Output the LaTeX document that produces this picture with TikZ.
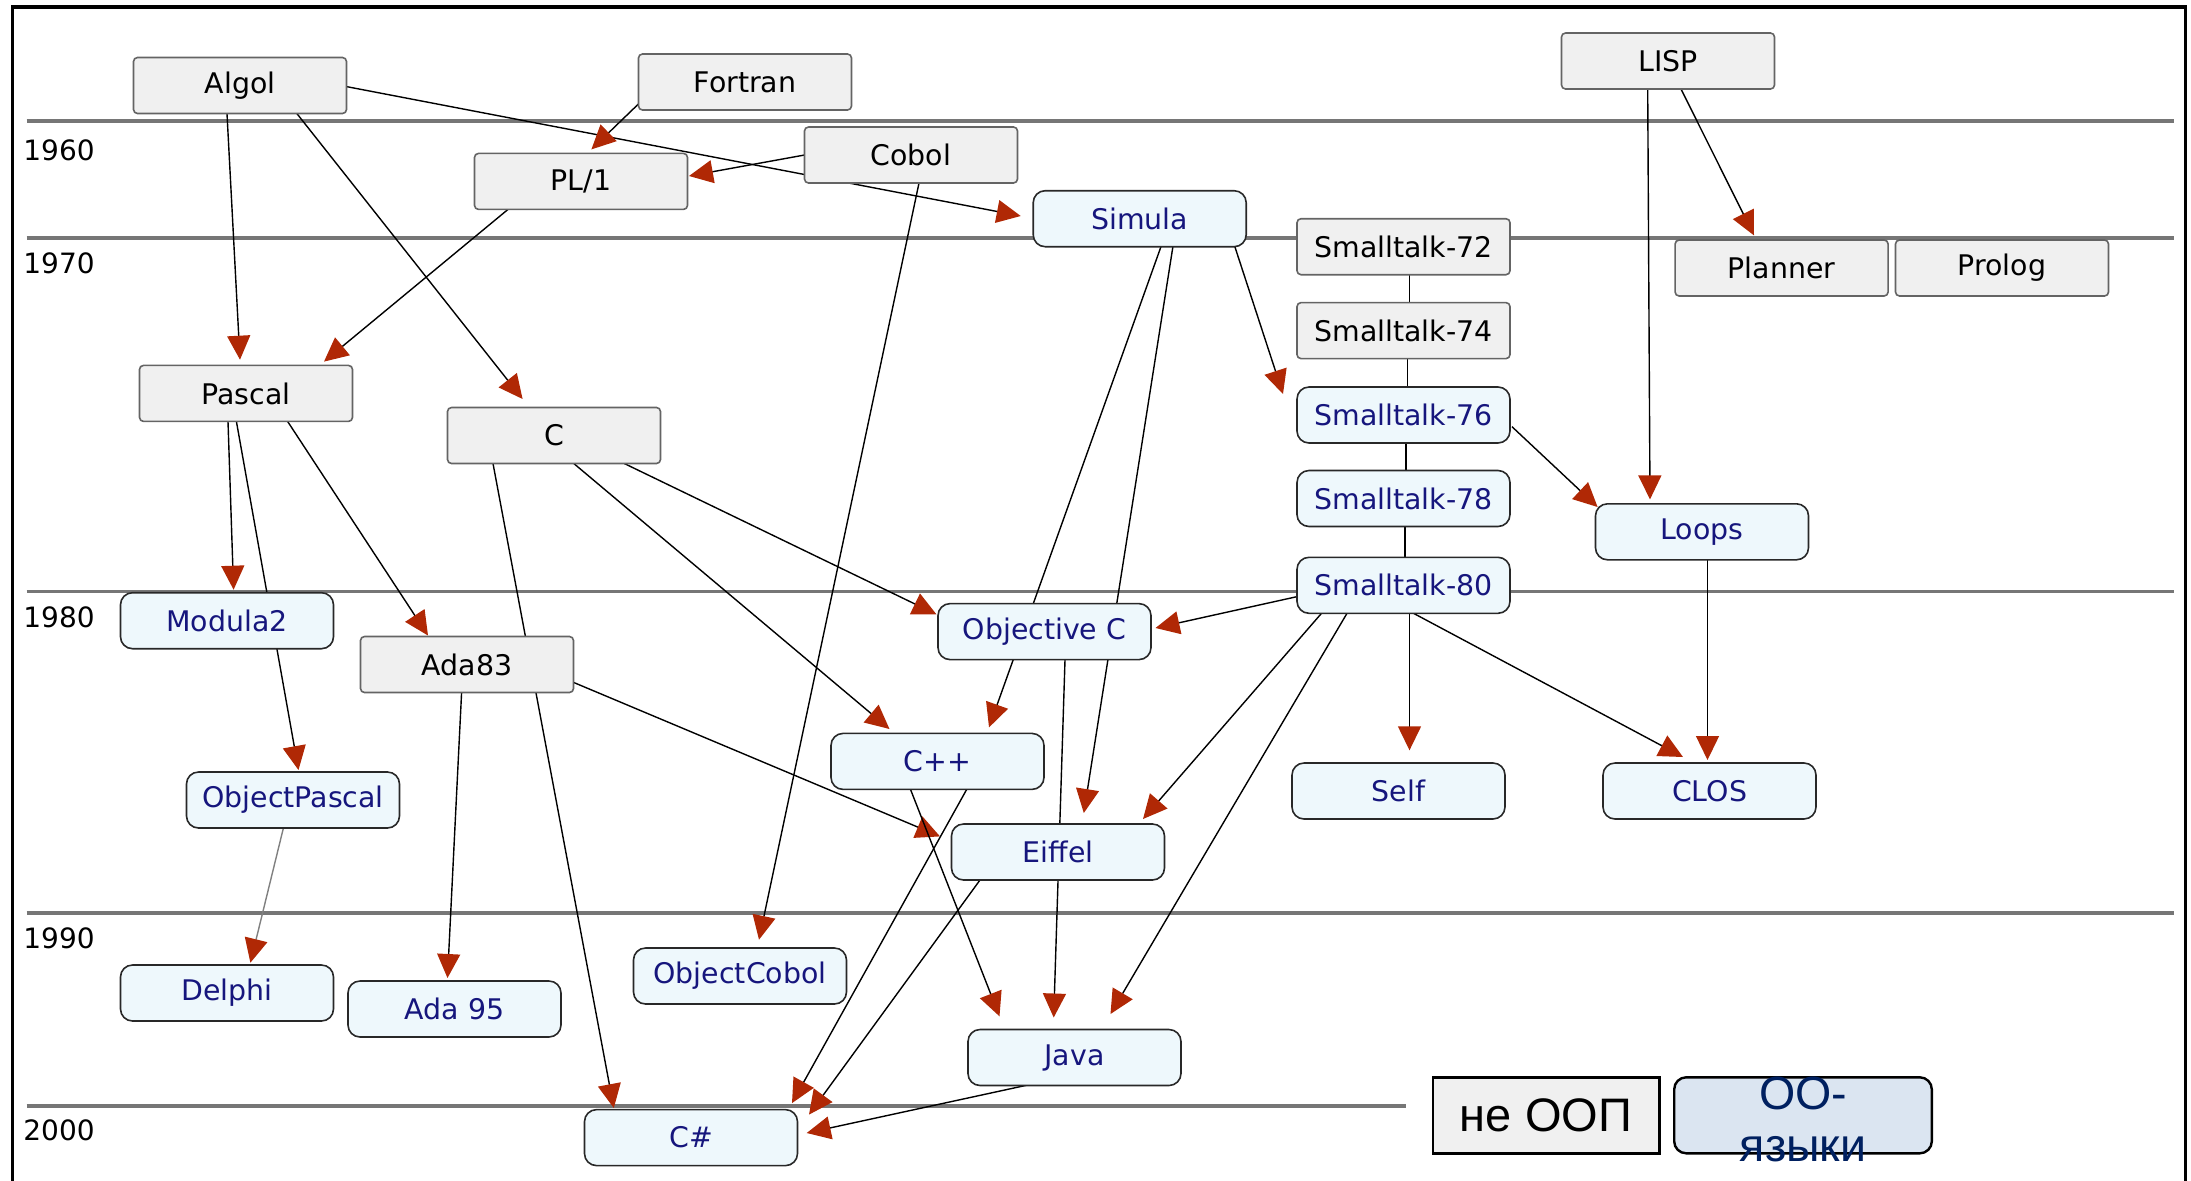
\documentclass[tikz,border=0pt]{standalone}
\usepackage{fontspec}
\setmainfont{DejaVu Sans}
\newfontfamily\legfont{Liberation Sans}
\usetikzlibrary{arrows.meta,calc}
\definecolor{arrowred}{RGB}{176,40,5}
\definecolor{grayfill}{RGB}{240,240,240}
\definecolor{grayborder}{RGB}{100,100,100}
\definecolor{oofill}{RGB}{238,248,252}
\definecolor{ooborder}{RGB}{40,40,40}
\definecolor{ootext}{RGB}{22,22,125}
\definecolor{legfill}{RGB}{219,229,241}
\definecolor{legtext}{RGB}{0,32,96}
\definecolor{yearline}{RGB}{118,118,118}
\pgfdeclarelayer{rules}
\pgfdeclarelayer{edges}
\pgfsetlayers{rules,edges,main}
\begin{document}
\begin{tikzpicture}[x=0.5pt,y=-0.5pt,
  lang/.style={minimum width=106.5pt,minimum height=28pt,inner sep=0pt,line width=0.8pt,font=\fontsize{14.2}{17}\selectfont},
  nonoo/.style={lang,draw=grayborder,fill=grayfill,rounded corners=2pt,text=black},
  oolang/.style={lang,draw=ooborder,fill=oofill,rounded corners=6pt,text=ootext},
  link/.style={line width=0.7pt,-{Triangle[length=12pt,width=11.5pt,color=arrowred]}},
  plainlink/.style={line width=0.7pt},
  yearrule/.style={yearline,line width=1.8pt},
  year/.style={anchor=west,inner sep=0pt,font=\fontsize{14}{17}\selectfont}
]
\useasboundingbox (0,0) rectangle (2191,1180);
\clip (0,0) rectangle (2191,1180);

% frame
\draw[line width=1.6pt] (12.6,7) rectangle (2185.6,1220);

% year rules and labels
\begin{pgfonlayer}{rules}
\draw[yearrule] (26.7,121) -- (2174,121);
\draw[yearrule] (26.7,237.7) -- (2174,237.7);
\draw[yearrule] (26.7,591.5) -- (2174,591.5);
\draw[yearrule] (26.7,913) -- (2174,913);
\draw[yearrule] (26.7,1106) -- (1406,1106);
\end{pgfonlayer}
\node[year] (y1960) at (23,150) {1960};
\node[year] (y1970) at (23,263.5) {1970};
\node[year] (y1980) at (23,617.5) {1980};
\node[year] (y1990) at (23,938.5) {1990};
\node[year] (y2000) at (23,1130.5) {2000};

% nodes
\node[nonoo] (algol) at (240,85.5) {Algol};
\node[nonoo] (fortran) at (745,82) {Fortran};
\node[nonoo] (cobol) at (911,155) {Cobol};
\node[nonoo] (pl1) at (581,181.4) {PL/1};
\node[oolang] (simula) at (1139.7,218.7) {Simula};
\node[nonoo] (lisp) at (1668,61) {LISP};
\node[nonoo] (st72) at (1403.5,246.7) {Smalltalk-72};
\node[nonoo] (st74) at (1403.5,330.6) {Smalltalk-74};
\node[oolang] (st76) at (1403.5,415) {Smalltalk-76};
\node[oolang] (st78) at (1403.5,498.5) {Smalltalk-78};
\node[oolang] (st80) at (1403.5,585.3) {Smalltalk-80};
\node[nonoo] (planner) at (1781.6,268) {Planner};
\node[nonoo] (prolog) at (2002,268) {Prolog};
\node[oolang] (loops) at (1702,531.8) {Loops};
\node[nonoo] (pascal) at (246,393.4) {Pascal};
\node[nonoo] (c) at (554,435.5) {C};
\node[oolang] (modula) at (227,620.7) {Modula2};
\node[nonoo] (ada83) at (467,664.5) {Ada83};
\node[oolang] (objpascal) at (293,800) {ObjectPascal};
\node[oolang] (delphi) at (227,993) {Delphi};
\node[oolang] (ada95) at (454.5,1009) {Ada 95};
\node[oolang] (objcobol) at (740,976) {ObjectCobol};
\node[oolang] (cpp) at (937.5,761.4) {C++};
\node[oolang] (eiffel) at (1058,852) {Eiffel};
\node[oolang] (java) at (1074.5,1057.5) {Java};
\node[oolang] (csharp) at (691,1137.6) {C\#};
\node[oolang] (objc) at (1044.5,631.6) {Objective C};
\node[oolang] (self) at (1398.5,791) {Self};
\node[oolang] (clos) at (1709.5,791) {CLOS};

% legend
\node[draw=black,line width=1.2pt,fill=grayfill,minimum width=113.3pt,minimum height=38pt,inner sep=0pt,font=\legfont\fontsize{23.5}{28}\selectfont] (legnon) at (1546,1115.3) {не ООП};
\node[draw=black,line width=1.2pt,fill=legfill,rounded corners=6pt,minimum width=128.8pt,minimum height=38pt,inner sep=0pt] (legoo) at (1803,1115.3) {};
\node[font=\legfont\fontsize{23.3}{26}\selectfont,text=legtext,align=center,inner sep=0pt] (legootext) at ($(legoo)+(0,4)$) {ОО-\\языки};

% edges
\begin{pgfonlayer}{edges}
\draw[link] ($(algol)+(-13,28.2)$) -- ($(pascal)+(-6,-33.7)$);
\draw[link] ($(algol)+(57,28.2)$) -- ($(c)+(-31.4,-36.5)$);
\draw[link] ($(algol)+(106,1)$) -- ($(simula)+(-119,-2.7)$);
\draw[link] ($(fortran)+(-106.6,22)$) -- ($(pl1)+(10.4,-32)$);
\draw[link] ($(cobol)+(-106.4,0)$) -- ($(pl1)+(108,-5.4)$);
\draw[link] ($(cobol)+(8,28)$) -- ($(objcobol)+(19,-36.3)$);
\draw[link] ($(pl1)+(-73,28)$) -- ($(pascal)+(78,-31.8)$);
\draw[link] ($(pascal)+(-18,28)$) -- ($(modula)+(6.6,-31)$);
\draw[link] ($(pascal)+(-9.6,28)$) -- ($(objpascal)+(5.5,-30)$);
\draw[link] ($(pascal)+(41.6,28)$) -- ($(ada83)+(-39,-29)$);
\draw[link] ($(c)+(-61,28)$) -- ($(csharp)+(-77.2,-29.6)$);
\draw[link] ($(c)+(19.8,28)$) -- ($(cpp)+(-48,-32.4)$);
\draw[link] ($(c)+(70.3,28)$) -- ($(objc)+(-108,-17.2)$);
\draw[link] ($(simula)+(94.6,26.3)$) -- ($(st76)+(-120.5,-21)$);
\draw[link] ($(simula)+(21.5,27.3)$) -- ($(cpp)+(51.5,-34)$);
\draw[link] ($(simula)+(33.3,27.3)$) -- ($(eiffel)+(25.8,-39)$);
\draw[link] ($(objc)+(20.5,28.4)$) -- ($(java)+(-20.8,-40)$);
\draw[link] ($(st80)+(-105,11)$) -- ($(objc)+(111,-3.6)$);
\draw[link] ($(st80)+(-82,28)$) -- ($(eiffel)+(85,-33)$);
\draw[link] ($(st80)+(-56.5,28)$) -- ($(java)+(36,-43.5)$);
\draw[link] ($(st80)+(6,28)$) -- ($(self)+(11,-40.7)$);
\draw[link] ($(st80)+(10,28)$) -- ($(clos)+(-26.5,-34)$);
\draw[link] ($(loops)+(5.5,28)$) -- ($(clos)+(-2,-31)$);
\draw[link] ($(lisp)+(-20.3,28)$) -- ($(loops)+(-52,-32.4)$);
\draw[link] ($(lisp)+(13,28)$) -- ($(planner)+(-27.6,-32.6)$);
\draw[link] ($(st76)+(108.5,11.7)$) -- ($(loops)+(-104.4,-24.8)$);
\draw[link] ($(ada83)+(106.8,18)$) -- ($(eiffel)+(-118,-15.6)$);
\draw[link] ($(ada83)+(-5.4,28)$) -- ($(ada95)+(-7,-31)$);
\draw[link,draw=gray] ($(objpascal)+(-9.6,28)$) -- ($(delphi)+(23.4,-30.3)$);
\draw[link] ($(cpp)+(-27,28)$) -- ($(java)+(-75,-41.2)$);
\draw[link] ($(cpp)+(29.2,28)$) -- ($(csharp)+(101,-34.5)$);
\draw[link] ($(eiffel)+(-78,28)$) -- ($(csharp)+(118,-23)$);
\draw[link] ($(java)+(-46.8,27.5)$) -- ($(csharp)+(115.7,-4.6)$);
\draw[plainlink] ($(st72)+(6,28)$) -- ($(st74)+(6,-28)$);
\draw[plainlink] ($(st74)+(4,28)$) -- ($(st76)+(4,-28)$);
\draw[plainlink] ($(st76)+(2.5,28)$) -- ($(st78)+(2.5,-28)$);
\draw[plainlink] ($(st78)+(1.3,28)$) -- ($(st80)+(1.3,-28)$);
\end{pgfonlayer}
\end{tikzpicture}
\end{document}
